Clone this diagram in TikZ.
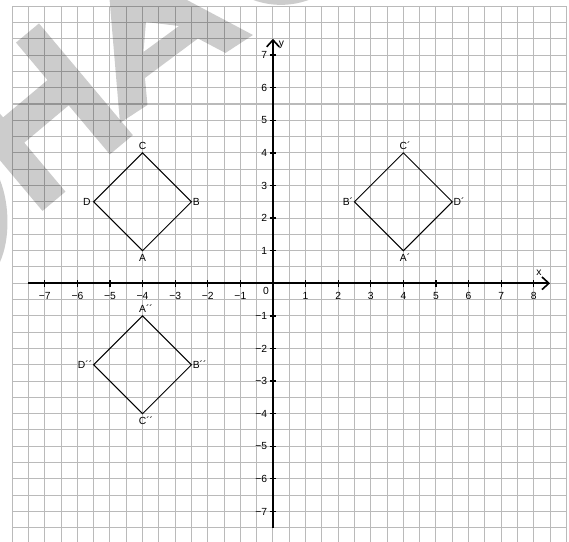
\documentclass[tikz,border=0pt]{standalone}
\usepackage{fontspec}
\setmainfont{Liberation Sans}
\usetikzlibrary{arrows.meta}
\begin{document}
\begin{tikzpicture}[
    every node/.append style={font=\fontsize{9}{10}\selectfont, inner sep=1pt},
    gridline/.style={draw=black!27, line width=0.9pt},
    axisline/.style={line width=1.4pt, -{Straight Barb[length=6pt,width=11pt]}},
    tickmark/.style={line width=1.1pt},
    sq/.style={line width=0.9pt, line join=miter},
    wmark/.style={fill=black, fill opacity=0.2}]
    \useasboundingbox (-8.374,-7.935) rectangle (9.081,8.690);
    \fill[white] (-8.374,-7.935) rectangle (9.081,8.690);
    \draw[gridline, step=0.5] (-8,-7.935) grid (9,8.5);
    % watermark
    \begin{scope}[shift={(-8.374cm,8.690cm)}, x=0.030675cm, y=-0.030675cm]
        \fill[wmark] (39,23.4) -- (132.9,135.2) -- (109.9,154.4) -- (68.7,105.4)
            -- (24.3,142.7) -- (65.5,191.7) -- (42.5,211) -- (-51.4,99.2)
            -- (-28.4,79.9) -- (3.1,117.4) -- (47.5,80.1) -- (16,42.6) -- cycle;
        \fill[wmark, even odd rule] (120,123) -- (106,-43) -- (253,35) -- (225.5,53)
            -- (198,38.5) -- (145,78) -- (147.5,105) -- cycle
            (143.5,52) -- (146,22) -- (179,26) -- cycle;
        \fill[wmark] (281,-76) circle[radius=2.48cm];
        \fill[wmark] (0,180) .. controls (10,205) and (10,240) .. (0,262) -- cycle;
    \end{scope}
    % axes
    \coordinate (xstart) at (-7.5,0);
    \coordinate (xend) at (8.5,0);
    \coordinate (ystart) at (0,-7.5);
    \coordinate (yend) at (0,7.5);
    \draw[axisline] (xstart) -- (xend);
    \draw[axisline] (ystart) -- (yend);
    \foreach \n in {1,...,8} {
        \draw[tickmark] (\n,-0.1) -- (\n,0.1);
        \node (xp\n) at (\n,-0.4) {\n};
    }
    \foreach \n in {1,...,7} {
        \draw[tickmark] (-\n,-0.1) -- (-\n,0.1);
        \node (xm\n) at (-\n,-0.4) {−\n};
        \draw[tickmark] (-0.1,\n) -- (0.1,\n);
        \node[anchor=east] (yp\n) at (-0.14,\n) {\n};
        \draw[tickmark] (-0.1,-\n) -- (0.1,-\n);
        \node[anchor=east] (ym\n) at (-0.14,-\n) {−\n};
    }
    \node (orig) at (-0.215,-0.236) {0};
    \node (xlab) at (8.16,0.32) {x};
    \node (ylab) at (0.26,7.31) {y};
    % ABCD
    \coordinate (A) at (-4,1);
    \coordinate (B) at (-2.5,2.5);
    \coordinate (C) at (-4,4);
    \coordinate (D) at (-5.5,2.5);
    \draw[sq] (A) -- (B) -- (C) -- (D) -- cycle;
    \node[below=2pt] (lA) at (A) {A};
    \node[right=0pt] (lB) at (B) {B};
    \node[above=2pt] (lC) at (C) {C};
    \node[left=1.5pt] (lD) at (D) {D};
    % A'B'C'D'
    \coordinate (A1) at (4,1);
    \coordinate (B1) at (2.5,2.5);
    \coordinate (C1) at (4,4);
    \coordinate (D1) at (5.5,2.5);
    \draw[sq] (A1) -- (B1) -- (C1) -- (D1) -- cycle;
    \node[below=2pt] (lA1) at (A1) {A\rlap{´}};
    \node[left=0pt] (lB1) at (B1) {B´};
    \node[above=2pt] (lC1) at (C1) {C\rlap{´}};
    \node[right=0pt] (lD1) at (D1) {D´};
    % A''B''C''D''
    \coordinate (A2) at (-4,-1);
    \coordinate (B2) at (-2.5,-2.5);
    \coordinate (C2) at (-4,-4);
    \coordinate (D2) at (-5.5,-2.5);
    \draw[sq] (A2) -- (B2) -- (C2) -- (D2) -- cycle;
    \node[above=2pt] (lA2) at (A2) {A\rlap{´´}};
    \node[right=0pt] (lB2) at (B2) {B´´};
    \node[below=2pt] (lC2) at (C2) {C\rlap{´´}};
    \node[left=0pt] (lD2) at (D2) {D´´};
\end{tikzpicture}
\end{document}
